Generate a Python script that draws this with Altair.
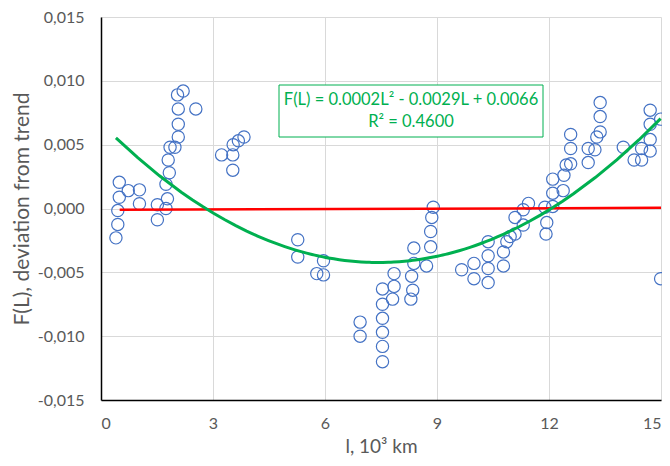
import altair as alt
import pandas as pd

# Scatter points: L (10^3 km) and F(L) deviation from trend
L = [0.49, 0.49, 0.45, 0.45, 0.40, 0.73, 1.03, 1.03, 1.51, 1.51,
     1.74, 1.78, 1.74, 1.83, 1.80, 1.85, 1.98, 2.07, 2.07, 2.07,
     2.05, 2.20, 2.54, 3.23, 3.53, 3.53, 3.54, 3.68, 3.83,
     5.27, 5.27, 5.78, 5.96, 5.96, 6.94, 6.94, 7.54, 7.54, 7.54,
     7.54, 7.54, 7.54, 7.85, 7.85, 7.81, 8.38, 8.38, 8.32, 8.35,
     8.30, 8.72, 8.83, 8.83, 8.86, 8.90, 9.66, 9.99, 9.99, 10.37,
     10.37, 10.37, 10.37, 10.78, 10.78, 10.87, 10.96, 11.09, 11.09, 11.31,
     11.31, 11.45, 11.92, 11.94, 11.89, 12.10, 12.10, 12.10, 12.38, 12.40,
     12.46, 12.58, 12.58, 12.58, 13.05, 13.05, 13.23, 13.28, 13.37, 13.37,
     13.37, 13.99, 14.28, 14.48, 14.48, 14.71, 14.71, 14.71, 14.71, 14.99,
     14.99]
F = [0.00205, 0.00088, -0.00016, -0.00125, -0.0023, 0.0014, 0.00146, 0.00037, 0.0003, -0.00088,
     0.0, 0.00076, 0.0019, 0.0028, 0.0038, 0.0048, 0.0048, 0.0056, 0.0066, 0.0078,
     0.0089, 0.0092, 0.0078, 0.0042, 0.0030, 0.0042, 0.0050, 0.0053, 0.0056,
     -0.00245, -0.0038, -0.0051, -0.0052, -0.0041, -0.0089, -0.0100, -0.0063, -0.0075, -0.0086,
     -0.0097, -0.0108, -0.0120, -0.0051, -0.0061, -0.0071, -0.0031, -0.0043, -0.0053, -0.0064,
     -0.0071, -0.0045, -0.0030, -0.0018, -0.0007, 0.0001, -0.0048, -0.0043, -0.0055, -0.0026,
     -0.0037, -0.0047, -0.0058, -0.0045, -0.0034, -0.0026, -0.0022, -0.0020, -0.0007, -0.0013,
     -0.0001, 0.0004, -0.0020, -0.0011, 0.0001, 0.00016, 0.0012, 0.0023, 0.0014, 0.0026,
     0.0034, 0.0035, 0.0047, 0.0058, 0.0036, 0.0047, 0.0046, 0.0056, 0.0060, 0.0072,
     0.0083, 0.0048, 0.0038, 0.0038, 0.0047, 0.0045, 0.0054, 0.0066, 0.0077, 0.0070,
     -0.0055]

# Red (linear trend) line endpoints
red_L = [0.5, 15.0]
red_F = [-0.0001, 0.00005]

x_ticks = [0, 3, 6, 9, 12, 15]
y_ticks = [-0.015, -0.010, -0.005, 0.0, 0.005, 0.010, 0.015]

eq_line1 = "F(L) = 0.0002L² - 0.0029L + 0.0066"
eq_line2 = "R² = 0.4600"

FONT = "Lato"
LABEL_COLOR = "#595959"
GREEN = "#00B050"

pts = pd.DataFrame({"L": L, "F": F})
red = pd.DataFrame({"L": red_L, "F": red_F})
one = pd.DataFrame({"a": [0]})

xs = alt.Scale(domain=[0, 15], nice=False, zero=False)
ys = alt.Scale(domain=[-0.015, 0.015], nice=False, zero=False)

x_axis = alt.Axis(values=x_ticks, title="l, 10³ km", grid=True, gridColor="#d9d9d9",
                  ticks=False, domainColor="#000000", domainWidth=1.5,
                  labelFont=FONT, labelFontSize=16, labelColor=LABEL_COLOR, labelPadding=15,
                  titleFont=FONT, titleFontSize=19, titleFontWeight="normal",
                  titleColor=LABEL_COLOR, titlePadding=6)
y_axis = alt.Axis(values=y_ticks, title="F(L), deviation from trend", grid=True,
                  gridColor="#d9d9d9", ticks=False, domainColor="#000000", domainWidth=1.5,
                  labelExpr="(datum.value < 0 ? '-' : '') + replace(format(abs(datum.value), '.3f'), '.', ',')",
                  labelFont=FONT, labelFontSize=16, labelColor=LABEL_COLOR, labelPadding=17,
                  titleFont=FONT, titleFontSize=21, titleFontWeight="normal",
                  titleColor=LABEL_COLOR, titlePadding=5)

points = alt.Chart(pts).mark_point(shape="circle", filled=False, size=150,
                                   color="#4472C4", strokeWidth=1.2, opacity=1).encode(
    x=alt.X("L:Q", scale=xs, axis=x_axis),
    y=alt.Y("F:Q", scale=ys, axis=y_axis),
)

trend = alt.Chart(pts).transform_regression(
    "L", "F", method="poly", order=2
).mark_line(color=GREEN, strokeWidth=3).encode(
    x=alt.X("L:Q", scale=xs),
    y=alt.Y("F:Q", scale=ys),
)

redline = alt.Chart(red).mark_line(color="#FF0000", strokeWidth=2.5).encode(
    x=alt.X("L:Q", scale=xs),
    y=alt.Y("F:Q", scale=ys),
)

box = alt.Chart(one).mark_rect(fill="white", stroke=GREEN, strokeWidth=1).encode(
    x=alt.value(178), x2=alt.value(442), y=alt.value(68), y2=alt.value(120)
)
t1 = alt.Chart(one).mark_text(text=eq_line1, color=GREEN, font=FONT, fontSize=16.5,
                              align="center", baseline="middle").encode(
    x=alt.value(310), y=alt.value(83)
)
t2 = alt.Chart(one).mark_text(text=eq_line2, color=GREEN, font=FONT, fontSize=16.5,
                              align="center", baseline="middle").encode(
    x=alt.value(310), y=alt.value(105)
)

chart = alt.layer(points, redline, trend, box, t1, t2).properties(
    width=560, height=383,
    autosize=alt.AutoSizeParams(type="none"),
    padding={"left": 93, "top": 9, "right": 1, "bottom": 58},
    background="white",
).configure_view(stroke=None)

chart.save("out.html", embed_options={"renderer": "svg", "actions": False})
